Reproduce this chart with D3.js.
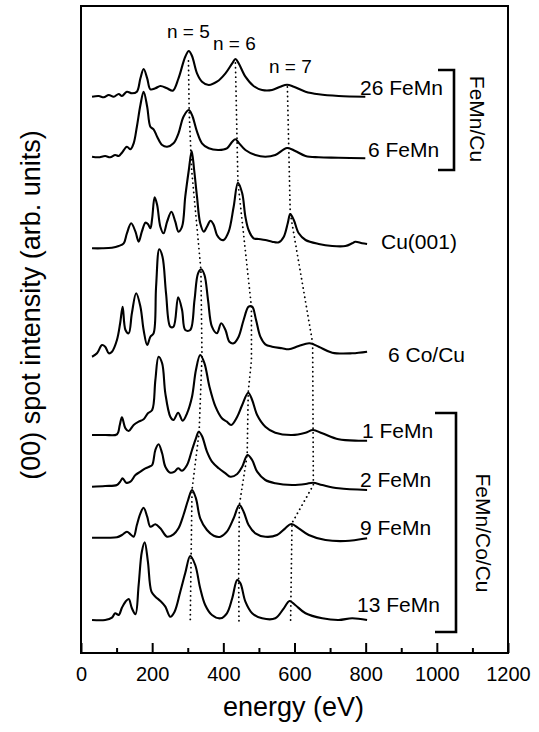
<!DOCTYPE html>
<html>
<head>
<meta charset="utf-8">
<script src="https://cdn.jsdelivr.net/npm/d3@7/dist/d3.min.js"></script>
<style>
  html, body { margin: 0; padding: 0; background: #fff; }
  svg { display: block; }
  text { font-family: "Liberation Sans", Arial, Helvetica, sans-serif; fill: #000; }
</style>
</head>
<body>
<script>
// ---------------- DATA ----------------
const energyTicks = [0, 200, 400, 600, 800, 1000, 1200];
const minorTicks = [100, 300, 500, 700, 900, 1100];
const seriesNames = ["26 FeMn", "6 FeMn", "Cu(001)", "6 Co/Cu", "1 FeMn", "2 FeMn", "9 FeMn", "13 FeMn"];
// vertical offsets of each curve (arb. units)
const offsets = [556, 496, 405, 298, 217, 167, 115, 34];
const groupNames = ["FeMn/Cu", "FeMn/Co/Cu"];
const orderLabels = ["n = 5", "n = 6", "n = 7"];

// [energy (eV), intensity (arb. units, relative to curve baseline)]
const feMn26 = [[31,0.3],[50,1],[64,-0.3],[78,2],[92,0.3],[106,3],[115,1],[129,5.3],[143,3.7],[157,5.3],[167,18.7],[176,28],[186,18.7],[195,7.7],[209,8.7],[223,11],[242,8.7],[258,6.3],[274,18.7],[293,40.3],[303,46],[312,41],[326,23.7],[340,15.3],[359,12],[382,15.3],[406,23.7],[425,33.7],[434,38],[443,33.7],[462,20.3],[485,11],[509,7],[537,7],[560,10.3],[579,12.3],[598,10.3],[631,5.3],[668,2.7],[724,1],[799,0.3]];
const feMn6 = [[31,0.3],[49,-0.3],[68,1],[82,-0.3],[96,2],[106,1],[115,4.3],[129,10.3],[139,7.7],[148,13.7],[157,30.3],[167,52],[176,65.3],[186,50.3],[195,30.3],[204,27.7],[214,20.3],[228,12],[242,10.3],[260,13.7],[274,23.7],[288,40.3],[303,47],[312,42],[326,25.3],[340,13.7],[359,8.7],[387,7],[410,8.7],[425,15.3],[434,17.7],[443,14.3],[462,7],[490,2],[518,0.3],[546,2],[579,9],[602,6],[631,1],[668,-0.3],[724,-0.7],[799,-1.3]];
const cu001 = [[31,-0.3],[59,-0.3],[87,0.3],[106,2],[120,4.7],[129,14.7],[141,24.7],[153,16.3],[162,6.3],[171,16.3],[181,25.3],[188,24],[195,19.7],[200,29.7],[207,50.7],[214,43],[223,21.3],[232,14.7],[242,26.3],[254,36.3],[265,26.3],[274,16.3],[284,21.3],[293,51.3],[303,78],[311,97],[318,78],[326,51.3],[335,24.7],[345,16.3],[354,21.3],[364,27.3],[373,23],[382,13],[392,8.7],[401,8],[415,16.3],[429,41.3],[441,65.3],[453,54.7],[462,31.3],[471,18],[485,9.7],[499,9],[518,8],[537,6.3],[556,5.7],[570,11.3],[581,24.7],[588,34],[598,28],[612,14.7],[631,8],[668,4],[706,2],[743,2],[762,4.7],[771,6.3],[790,4.7],[804,4]];
const co6 = [[31,-1.7],[45,1.7],[59,10],[68,8.3],[78,1.7],[87,3.3],[101,15],[110,31.7],[117,48.3],[125,25],[134,21.7],[143,41.7],[155,61.7],[167,48.3],[176,25],[186,10],[195,18.3],[204,21.7],[211,68.3],[220,105.7],[229,98.3],[239,61.7],[251,28.3],[260,28.3],[273,57.7],[284,45],[293,25],[307,25],[319,55],[329,81.7],[338,85.7],[347,80],[357,55],[368,28.3],[382,21.7],[394,31.7],[406,25],[417,13.3],[429,11.7],[443,18.3],[457,35],[471,48.3],[481,48.3],[492,35],[504,18.3],[518,10.7],[537,8.3],[565,6.7],[584,5.7],[612,9],[642,11.7],[668,8.3],[706,2.3],[762,1.7],[804,3.3]];
const feMn1 = [[31,1],[68,1],[101,1.7],[109,11],[115,18.7],[125,7.7],[134,5],[148,11],[162,14.3],[176,16.7],[188,22.7],[200,26],[209,56],[218,79.3],[228,72.7],[237,42.7],[251,19.3],[260,16],[273,23.3],[286,15.3],[298,22.7],[312,39.3],[323,66],[335,81],[347,72.7],[361,49.3],[378,29.3],[396,17.7],[410,14.3],[422,11],[439,19.3],[453,31],[470,43.3],[481,36],[495,21],[518,9.3],[546,3.3],[593,1],[631,3.3],[652,6],[678,2.7],[724,-3.3],[780,-4.7],[804,-4.7]];
const feMn2 = [[31,-0.7],[68,0],[101,1],[110,4.3],[117,7.7],[127,3.3],[139,4.3],[153,11],[167,14.3],[181,17.7],[192,19.3],[200,21],[209,36],[218,41.7],[228,32.7],[237,19.3],[251,13.3],[263,14.3],[273,17.7],[284,15.3],[298,21],[312,36],[323,47.7],[331,54.3],[340,50],[354,34.3],[368,24.3],[387,17.7],[406,12.7],[420,9.3],[439,12],[453,19.3],[468,31],[481,26],[495,14.3],[518,6],[546,2.7],[593,1],[631,2],[652,3.3],[678,1],[724,-2.3],[804,-4]];
const feMn9 = [[31,0.3],[68,0.3],[101,0.7],[115,3],[129,6.3],[139,3.7],[148,1.3],[157,13],[167,24.7],[176,30.3],[186,21.3],[195,11.3],[209,13.7],[223,9.7],[242,1.3],[260,3.7],[274,9.7],[288,23],[301,38],[312,48],[323,39.7],[335,19.7],[354,8],[373,2.3],[392,1.3],[410,6.3],[429,19.7],[445,33],[457,26.3],[471,13],[490,4.7],[518,1.3],[551,3],[574,9.7],[591,14],[612,9.7],[640,3],[687,-2],[743,-3],[804,-0.3]];
const feMn13 = [[31,-1],[68,-1],[87,1.3],[96,5.7],[106,4],[115,11.3],[125,17.3],[134,20],[143,10.7],[153,4.7],[162,34],[171,67.3],[179,76.7],[188,57.3],[198,27.3],[209,22.3],[223,18],[237,12.3],[251,2.3],[263,7.3],[279,27.3],[293,46],[307,63],[321,54],[335,30.7],[349,14],[368,4],[392,0.7],[410,5.7],[425,20.7],[439,39],[448,35.7],[462,17.3],[481,5.7],[509,0.7],[546,0.7],[570,10.7],[586,18],[602,14],[631,5.7],[678,0.7],[724,-1],[762,0.7],[804,-1]];
const seriesData = [feMn26, feMn6, cu001, co6, feMn1, feMn2, feMn9, feMn13];

// dotted guide lines following the n = 5, 6, 7 peaks: [energy, absolute arb. units]
const guideN5 = [[302,592],[304,541],[311,483],[337,383],[340,297],[332,221],[312,163],[307,31]];
const guideN6 = [[434,590],[441,471],[479,346],[479,293],[470,261],[467,198],[445,148],[443,75],[444,31]];
const guideN7 = [[580,566],[588,440],[651,310],[653,168],[593,130],[589,31]];
const guides = [guideN5, guideN6, guideN7];

// ---------------- LAYOUT ----------------
const W = 539, H = 732;
const plot = { left: 81, right: 508, top: 6, bottom: 653 };
const labelPos = [[360,95],[368,157],[381,249],[388,362],[362,438],[360,487],[360,535],[357,612]];
const orderPos = [[167,38],[213,50],[269,73]];

const svg = d3.select("body").append("svg").attr("width", W).attr("height", H);

const x = d3.scaleLinear().domain([0, 1200]).range([plot.left, plot.right]);
const y = d3.scaleLinear().domain([0, 647]).range([plot.bottom, plot.top]);

// frame
svg.append("rect")
  .attr("x", plot.left).attr("y", plot.top)
  .attr("width", plot.right - plot.left).attr("height", plot.bottom - plot.top)
  .attr("fill", "none").attr("stroke", "#000").attr("stroke-width", 2);

// x axis major ticks
const axMajor = svg.append("g").attr("transform", `translate(0,${plot.bottom})`)
  .call(d3.axisBottom(x).tickValues(energyTicks).tickSize(-10).tickPadding(14).tickFormat(d3.format("d")));
axMajor.select(".domain").remove();
axMajor.selectAll(".tick line").attr("stroke", "#000").attr("stroke-width", 2);
axMajor.selectAll(".tick text").attr("font-size", 20).attr("font-family", "Liberation Sans, Arial, sans-serif").attr("dy", "0.71em");

const axMinor = svg.append("g").attr("transform", `translate(0,${plot.bottom})`)
  .call(d3.axisBottom(x).tickValues(minorTicks).tickSize(-5).tickFormat(""));
axMinor.select(".domain").remove();
axMinor.selectAll(".tick line").attr("stroke", "#000").attr("stroke-width", 2);

// axis titles
svg.append("text").attr("x", (plot.left + plot.right) / 2 - 1).attr("y", 716)
  .attr("text-anchor", "middle").attr("font-size", 27).text("energy (eV)");
svg.append("text").attr("transform", "translate(40,305) rotate(-90)")
  .attr("text-anchor", "middle").attr("font-size", 27).text("(00) spot intensity (arb. units)");

// guide lines
const guideLine = d3.line().x(d => x(d[0])).y(d => y(d[1]));
svg.append("g").selectAll("path").data(guides).join("path")
  .attr("d", guideLine).attr("fill", "none").attr("stroke", "#000")
  .attr("stroke-width", 1.8).attr("stroke-linecap", "round").attr("stroke-dasharray", "0.1,4.6");

// curves
const curveLine = d3.line().curve(d3.curveCatmullRom.alpha(0.5));
svg.append("g").selectAll("path").data(seriesData).join("path")
  .attr("d", (d, i) => curveLine(d.map(p => [x(p[0]), y(offsets[i] + p[1])])))
  .attr("fill", "none").attr("stroke", "#000").attr("stroke-width", 2.1).attr("stroke-linejoin", "round");

// curve labels
svg.append("g").selectAll("text").data(seriesNames).join("text")
  .attr("x", (d, i) => labelPos[i][0]).attr("y", (d, i) => labelPos[i][1])
  .attr("font-size", 21).text(d => d);

// order labels
svg.append("g").selectAll("text").data(orderLabels).join("text")
  .attr("x", (d, i) => orderPos[i][0]).attr("y", (d, i) => orderPos[i][1])
  .attr("font-size", 19).text(d => d);

// brackets
const brackets = [[438, 454, 70, 170], [435, 456, 413, 632]];
svg.append("g").selectAll("path").data(brackets).join("path")
  .attr("d", b => `M${b[0]},${b[2]}H${b[1]}V${b[3]}H${b[0]}`)
  .attr("fill", "none").attr("stroke", "#000").attr("stroke-width", 2.6);

const groupPos = [[477, 119], [483, 533]];
svg.append("g").selectAll("text").data(groupNames).join("text")
  .attr("transform", (d, i) => `translate(${groupPos[i][0]},${groupPos[i][1]}) rotate(90)`)
  .attr("text-anchor", "middle").attr("dominant-baseline", "central")
  .attr("font-size", 21).text(d => d);
</script>
</body>
</html>
